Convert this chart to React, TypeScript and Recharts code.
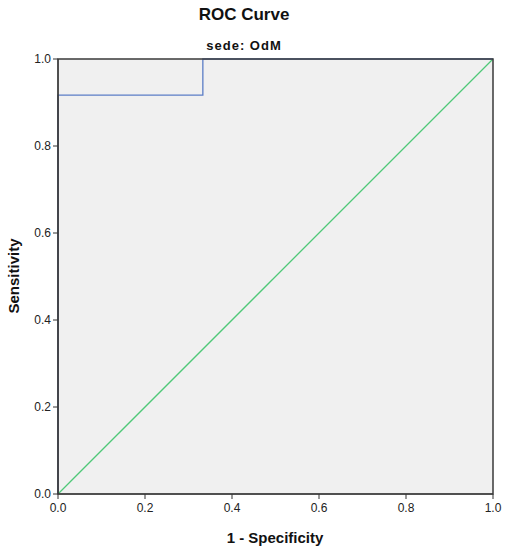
import { ComposedChart, Line, XAxis, YAxis, ReferenceArea } from "recharts";

// ROC curve points (1 - specificity, sensitivity)
const rocX = [0, 0, 0.333, 0.333, 1];
const rocY = [0, 0.917, 0.917, 1, 1];

// reference diagonal
const refX = [0, 1];
const refY = [0, 1];

const ticks = [0, 0.2, 0.4, 0.6, 0.8, 1];

const rocData = rocX.map((x, i) => ({ x, y: rocY[i] }));
const refData = refX.map((x, i) => ({ x, y: refY[i] }));

const font = "'Liberation Sans', Arial, sans-serif";
const tickStyle = { fontSize: 12, fill: "#222", fontFamily: font };

export default function App() {
  return (
    <div style={{ position: "absolute", left: 0, top: 0, width: 505, height: 550, background: "#fff" }}>
      <ComposedChart
        width={505}
        height={550}
        margin={{ top: 59, right: 12, bottom: 26, left: 18 }}
      >
        <XAxis
          type="number"
          dataKey="x"
          domain={[0, 1]}
          ticks={ticks}
          height={30}
          tickFormatter={(v: number) => v.toFixed(1)}
          tick={{ ...tickStyle, dy: 2 }}
          tickSize={5}
          axisLine={{ stroke: "#333" }}
          tickLine={{ stroke: "#333" }}
          allowDuplicatedCategory={false}
        />
        <YAxis
          type="number"
          dataKey="y"
          domain={[0, 1]}
          ticks={ticks}
          width={40}
          tickFormatter={(v: number) => v.toFixed(1)}
          tick={tickStyle}
          tickSize={5}
          axisLine={{ stroke: "#333" }}
          tickLine={{ stroke: "#333" }}
        />
        <ReferenceArea x1={0} x2={1} y1={0} y2={1} fill="#f0f0f0" fillOpacity={1} stroke="none" />
        <Line
          data={refData}
          dataKey="y"
          type="linear"
          stroke="#4fc878"
          strokeWidth={1.3}
          dot={false}
          isAnimationActive={false}
        />
        <Line
          data={rocData}
          dataKey="y"
          type="linear"
          stroke="#5b7dc6"
          strokeWidth={1.3}
          dot={false}
          isAnimationActive={false}
        />
        {/* plot frame drawn over the curves, like SPSS */}
        <ReferenceArea
          x1={0}
          x2={1}
          y1={0}
          y2={1}
          fill="none"
          stroke="#3a3a3a"
          strokeWidth={1.5}
          zIndex={1200}
        />
      </ComposedChart>
      <svg
        width={505}
        height={550}
        style={{ position: "absolute", left: 0, top: 0, pointerEvents: "none" }}
      >
        <text x={244} y={20} textAnchor="middle" fontSize={17} fontWeight="bold" fontFamily={font} fill="#111">
          ROC Curve
        </text>
        <text x={244} y={50} textAnchor="middle" fontSize={13} fontWeight="bold" letterSpacing={1} fontFamily={font} fill="#111">
          sede: OdM
        </text>
        <text x={275} y={543} textAnchor="middle" fontSize={15} fontWeight="bold" fontFamily={font} fill="#111">
          1 - Specificity
        </text>
        <text
          x={19}
          y={276}
          textAnchor="middle"
          fontSize={15}
          fontWeight="bold"
          fontFamily={font}
          fill="#111"
          transform="rotate(-90 19 276)"
        >
          Sensitivity
        </text>
      </svg>
    </div>
  );
}
